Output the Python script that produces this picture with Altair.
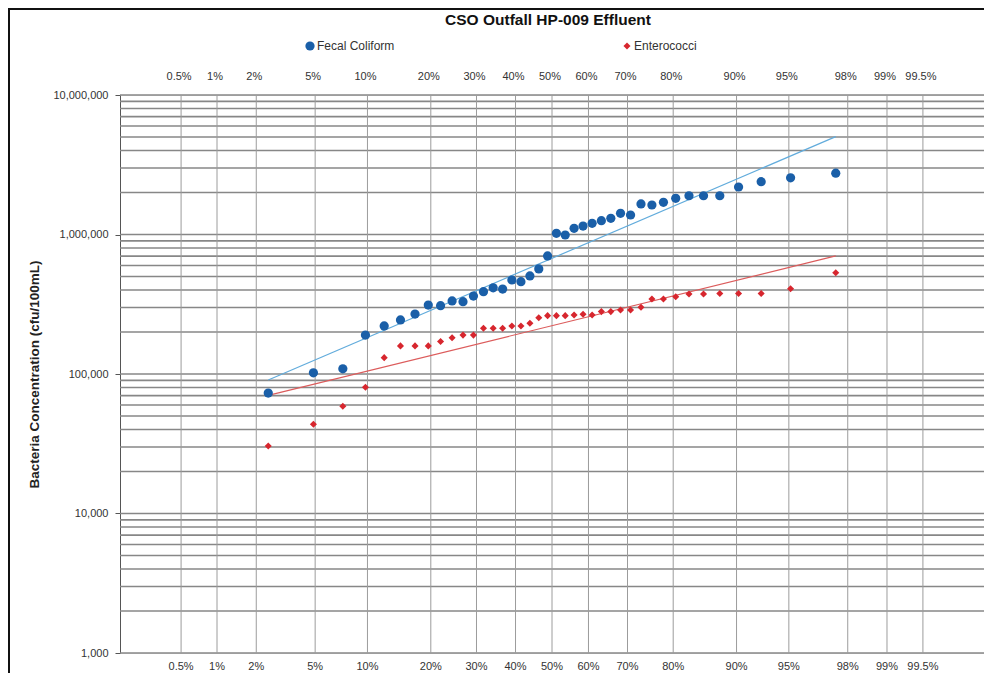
import altair as alt
import pandas as pd
from statistics import NormalDist

# ---------------- data ----------------
series_names = ["Fecal Coliform", "Enterococci"]

fecal_coliform = [73000, 102000, 109000, 190000, 221000, 244000, 269000, 312000,
                  309000, 334000, 330000, 362000, 389000, 415000, 406000, 472000,
                  459000, 505000, 567000, 702000, 1020000, 992000, 1107000, 1150000,
                  1203000, 1256000, 1306000, 1418000, 1380000, 1655000, 1627000,
                  1702000, 1817000, 1896000, 1896000, 1896000, 2190000, 2390000,
                  2550000, 2750000]

enterococci = [30500, 43600, 58700, 80300, 131000, 159000, 159000, 159000,
               171000, 182000, 190000, 190000, 213000, 213000, 213000, 221000,
               221000, 231000, 253000, 262000, 262000, 262000, 265000, 268000,
               265000, 280000, 280000, 288000, 288000, 301000, 345000, 345000,
               358000, 374000, 374000, 378000, 378000, 378000, 408000, 532000]

# trend line end values (at first and last plotting position)
fecal_trend = [90600, 5030000]
entero_trend = [70200, 702000]

percent_ticks = [0.5, 1, 2, 5, 10, 20, 30, 40, 50, 60, 70, 80, 90, 95, 98, 99, 99.5]
percent_labels = ["0.5%", "1%", "2%", "5%", "10%", "20%", "30%", "40%", "50%",
                  "60%", "70%", "80%", "90%", "95%", "98%", "99%", "99.5%"]

y_decades = [1000, 10000, 100000, 1000000, 10000000]
y_minor_mult = [1, 2, 3, 4, 5, 6, 7, 8, 9]

# ---------------- build tables ----------------
nd = NormalDist()
n = len(fecal_coliform)
zpos = [nd.inv_cdf((i + 1) / (n + 1)) for i in range(n)]

pts = pd.DataFrame({
    "series": [series_names[0]] * n + [series_names[1]] * n,
    "z": zpos + zpos,
    "value": fecal_coliform + enterococci,
})

fecal_line = pd.DataFrame({"z": [zpos[0], zpos[-1]], "value": fecal_trend})
entero_line = pd.DataFrame({"z": [zpos[0], zpos[-1]], "value": entero_trend})

hgrid_vals = [m * d for d in y_decades[:-1] for m in y_minor_mult] + [y_decades[-1]]
hgrid = pd.DataFrame({"value": hgrid_vals})

vgrid = pd.DataFrame({
    "z": [nd.inv_cdf(p / 100.0) for p in percent_ticks],
    "label": percent_labels,
})

W, H = 864, 558
FONT = "Liberation Sans"

xscale = alt.Scale(domain=[-3, 3], nice=False, zero=False)
yscale = alt.Scale(type="log", domain=[1000, 10000000], nice=False)

yaxis = alt.Axis(values=y_decades, format=",", grid=False,
                 title="Bacteria Concentration (cfu/100mL)",
                 titleFontSize=13.5, titleFontWeight="bold", titleFont=FONT,
                 titleColor="#222222", titlePadding=11,
                 labelFontSize=11, labelFont=FONT, labelColor="#333333",
                 labelPadding=7, tickSize=5, tickColor="#555555",
                 domainColor="#555555")

def ych(field="value"):
    return alt.Y(f"{field}:Q", scale=yscale, axis=yaxis)

def xch():
    return alt.X("z:Q", scale=xscale, axis=None)

frame = alt.Chart(pd.DataFrame({"a": [0]})).mark_rect(
    fillOpacity=0, stroke="#111111", strokeWidth=2
).encode(
    x=alt.value(-111), x2=alt.value(W + 40),
    y=alt.value(-86), y2=alt.value(H + 60),
)

hlines = alt.Chart(hgrid).mark_rule(color="#878787", strokeWidth=1.6).encode(y=ych())

vlines = alt.Chart(vgrid).mark_rule(color="#9c9c9c", strokeWidth=1).encode(x=xch())

top_labels = alt.Chart(vgrid).mark_text(
    fontSize=11, color="#333333", font=FONT, baseline="middle", dx=-2
).encode(x=xch(), y=alt.value(-18), text="label:N")

bottom_labels = alt.Chart(vgrid).mark_text(
    fontSize=11, color="#333333", font=FONT, baseline="middle"
).encode(x=xch(), y=alt.value(H + 14), text="label:N")

line_f = alt.Chart(fecal_line).mark_line(strokeWidth=1.2, color="#62acdc").encode(
    x=xch(), y=ych())
line_e = alt.Chart(entero_line).mark_line(strokeWidth=1.2, color="#dc5c5c").encode(
    x=xch(), y=ych())

legend_kw = dict(
    orient="none", legendX=184, legendY=-55, direction="horizontal", title=None,
    labelFontSize=12, labelColor="#333333", labelFont=FONT, symbolSize=36,
    columnPadding=226, labelOffset=1, padding=0, symbolStrokeWidth=0,
)

points = alt.Chart(pts).mark_point(filled=True, opacity=1).encode(
    x=xch(),
    y=ych(),
    color=alt.Color("series:N",
                    scale=alt.Scale(domain=series_names, range=["#1a5fa8", "#d7262e"]),
                    legend=alt.Legend(**legend_kw)),
    shape=alt.Shape("series:N",
                    scale=alt.Scale(domain=series_names, range=["circle", "diamond"]),
                    legend=alt.Legend(**legend_kw)),
    size=alt.Size("series:N",
                  scale=alt.Scale(domain=series_names, range=[85, 50]),
                  legend=None),
)

chart = alt.layer(
    frame, hlines, vlines, top_labels, bottom_labels, line_f, line_e, points
).properties(
    width=W, height=H,
    title=alt.TitleParams("CSO Outfall HP-009 Effluent", fontSize=15.5, fontWeight="bold",
                          font=FONT, color="#111111", anchor="middle", offset=-20, dx=-4),
    autosize=alt.AutoSizeParams(type="none"),
    padding={"left": 112, "top": 87, "right": 0, "bottom": 20},
).configure_view(stroke="#777777", strokeWidth=1).configure(background="white")

chart.save("out.html", embed_options={"renderer": "svg", "actions": False})
